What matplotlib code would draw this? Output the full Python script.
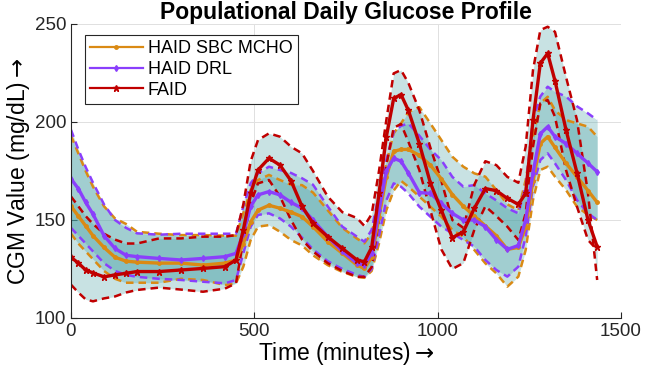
import numpy as np
import matplotlib
matplotlib.use("Agg")
import matplotlib.pyplot as plt

plt.rcParams['font.family'] = ['Liberation Sans', 'DejaVu Sans']

# time (minutes)
time_min = [0, 20, 40, 60, 90, 120, 150, 180, 240, 300, 360, 420, 450, 470, 490, 510,
            540, 570, 600, 630, 660, 700, 740, 780, 800, 820, 840, 860, 880, 900, 920, 950,
            980, 1010, 1040, 1070, 1100, 1130, 1160, 1190, 1220, 1240, 1260, 1280, 1300,
            1320, 1350, 1380, 1410, 1435]

# HAID SBC MCHO
sbc_mean = [157, 152, 147, 142, 136, 131, 129, 128.5, 128, 128, 127, 128, 129.6, 138, 149, 155,
            157.5, 156, 154, 151.7, 146.6, 139, 133, 127, 125.3, 131, 151.7, 172, 185, 186, 186, 183,
            178, 171, 163, 157, 152, 147, 142, 135, 136, 146.6, 170, 189, 192.5,
            187, 179, 172, 165, 159]
sbc_hi = [193, 184, 175, 167, 157, 150.8, 148, 144, 143, 142.3, 142.3, 142, 142, 153.4, 165.3, 170.4,
          173, 170.4, 168, 167.8, 164, 155, 146, 140.5, 138.1, 143.2, 160.2, 178.9, 194.2, 199.3, 205, 207.6,
          199.3, 190.8, 182.3, 177.2, 173.8, 172.1, 165.3, 158, 155, 170.4, 192.5, 209.5, 212.9,
          206, 201, 199.3, 197.6, 192.5]
sbc_lo = [143, 138, 134, 130, 124, 120, 118, 118, 118, 120, 119.4, 116.8, 117.7, 126.2, 139.8, 146.6,
          147.4, 144, 139.8, 137, 132, 127, 123.5, 121, 120.5, 124, 138, 155, 165, 170, 167, 162,
          156.8, 151.7, 144.9, 141.5, 134.7, 127.9, 122.8, 116, 121.1, 134.7, 160.2, 175.5, 177.2,
          172.1, 165.3, 156.8, 152.6, 150]

# HAID DRL
drl_mean = [171, 166, 159, 153, 142, 135.5, 132, 131.3, 130.4, 129.6, 130.4, 131.3, 133, 143, 157, 162.8,
            164.5, 162.8, 159, 156, 150, 141.5, 134, 128, 127, 133, 155, 175, 181.5, 180, 174, 164,
            163.6, 158.5, 153.4, 150, 150, 146.6, 140, 135, 137, 150, 174, 194, 197.6,
            192.5, 189, 184, 179, 174.6]
drl_hi = [196, 186, 177, 169, 158, 150, 146, 143.2, 142.5, 143, 143, 143, 143, 157, 168.7, 173.8,
          177.2, 175.5, 174, 171.3, 168, 157, 146.6, 141.5, 138.9, 145, 163.6, 180.6, 195, 198, 199.3, 193,
          186, 180.6, 172, 167, 167.8, 163.6, 160, 156, 153.4, 167, 201, 213, 218,
          215.4, 213, 208, 204.4, 201]
drl_lo = [146, 142, 138, 134, 128, 124, 122, 121, 120, 119.4, 118.5, 117.7, 119.4, 133, 146.6, 152.6,
          153.4, 150.8, 146.6, 141, 135, 129, 125, 122, 121, 125, 142, 160, 168.7, 167, 163.6, 156.8,
          151.7, 146.6, 143.2, 139.8, 136.4, 129.6, 124.5, 121.1, 126.2, 141.5, 167, 180.6, 184,
          178.9, 170.4, 160.2, 153.4, 150]

# FAID
faid_mean = [131, 128, 124.5, 123, 121, 122, 122.8, 123.7, 123.7, 124.5, 125.3, 126.2, 129.6, 145, 163.6, 175.5,
             181.5, 178, 170, 157, 148.3, 141.5, 135.5, 129.6, 128.7, 136, 163.6, 192.5, 212, 214, 206, 189,
             169, 155, 141, 144, 156, 166, 165, 161, 158, 163.6, 201, 230, 235,
             221, 196, 174, 150, 136.4]
faid_hi = [162, 157, 152, 148, 143, 140, 138, 138, 140.6, 140.6, 141.5, 141.5, 142.3, 158, 180, 190.8,
           194.2, 192.5, 187.4, 184, 175, 162, 154, 151, 147, 153, 175, 201, 224.8, 226.5, 220, 206,
           187, 170, 150, 146, 168, 180, 178, 172, 169, 187.4, 226.5, 246.9, 248.6,
           246, 223, 201, 163.6, 119.4]
faid_lo = [117, 113, 109.5, 108.5, 110, 111, 113, 114.3, 115.5, 114.5, 113.4, 115, 117.7, 139.8, 158.5, 168.7,
           170.4, 162, 150, 140, 134, 128, 124, 121, 121, 126, 150, 178, 197, 199, 190, 175.5,
           155, 135, 125, 128, 145, 157, 152, 146.6, 139.8, 153.4, 187.4, 209.5, 211.2,
           202.7, 175.5, 156.8, 139.8, 134.7]

labels = ["HAID SBC MCHO", "HAID DRL", "FAID"]
colors = ["#DA8A14", "#8A3FFC", "#C00000"]
markers = [".", "d", "*"]
msizes = [5, 3, 5]

t = np.array(time_min)
series = [
    (sbc_mean, sbc_hi, sbc_lo),
    (drl_mean, drl_hi, drl_lo),
    (faid_mean, faid_hi, faid_lo),
]

fig = plt.figure(figsize=(6.45, 3.79), dpi=100)
ax = fig.add_axes([71 / 645, 1 - 318 / 379, 550 / 645, 294 / 379])

for mean, hi, lo in series:
    ax.fill_between(t, lo, hi, color="#4AA2A5", alpha=0.3, linewidth=0)

for (mean, hi, lo), c in zip(series, colors):
    ax.plot(t, hi, color=c, lw=1.8, ls=(0, (3, 2)))
    ax.plot(t, lo, color=c, lw=1.8, ls=(0, (3, 2)))

for (mean, hi, lo), c, m, ms, lab in zip(series, colors, markers, msizes, labels):
    ax.plot(t, mean, color=c, lw=2.4, marker=m, markersize=ms, label=lab)

ax.set_xlim(0, 1500)
ax.set_ylim(100, 250)
ax.set_xticks([0, 500, 1000, 1500])
ax.set_yticks([100, 150, 200, 250])
ax.grid(True, color="0.88", lw=0.7)
ax.set_axisbelow(True)
for s in ["top", "right"]:
    ax.spines[s].set_visible(False)
for s in ["left", "bottom"]:
    ax.spines[s].set_color("0.15")
ax.tick_params(direction="in", length=4, labelsize=13.5, colors="0.15")

ax.set_xlabel(r"Time (minutes)$\rightarrow$", fontsize=16.5, labelpad=0)
ax.set_ylabel(r"CGM Value (mg/dL)$\rightarrow$", fontsize=16.5, labelpad=2)
ax.set_title("Populational Daily Glucose Profile", fontsize=16.5, fontweight="bold", pad=2)

leg = ax.legend(loc="upper left", bbox_to_anchor=(0.025, 0.963), borderaxespad=0,
                fontsize=13, fancybox=False, edgecolor="0.15", framealpha=1,
                handlelength=2.9, handletextpad=0.3, labelspacing=0.2, borderpad=0.3)
leg.get_frame().set_linewidth(0.8)
for h in leg.legend_handles:
    h.set_linewidth(1.6)

fig.savefig("out.png", dpi=100)
